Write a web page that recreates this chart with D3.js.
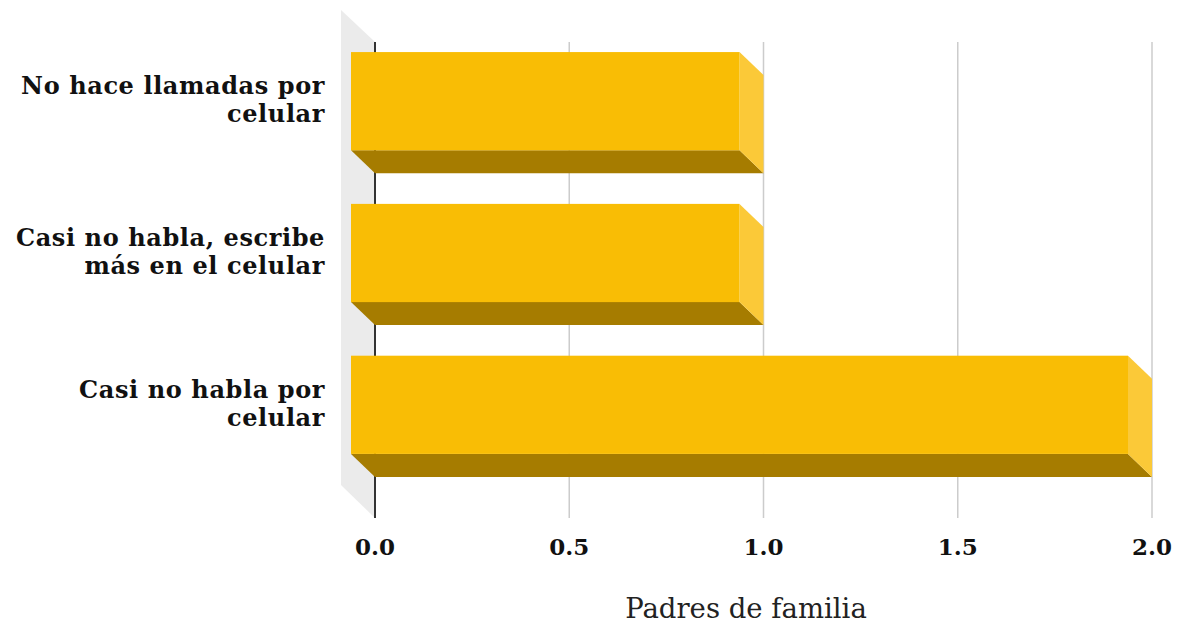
<!DOCTYPE html>
<html><head><meta charset="utf-8">
<script src="https://cdn.jsdelivr.net/npm/d3@7"></script>
<style>body{margin:0;background:#fff}</style>
</head><body>
<svg id="c" width="1188" height="625"></svg>
<script>
const categories = ["No hace llamadas por celular", "Casi no habla, escribe más en el celular", "Casi no habla por celular"];
const labelLines = [["No hace llamadas por", "celular"], ["Casi no habla, escribe", "más en el celular"], ["Casi no habla por", "celular"]];
const values = [1, 1, 2];
const tickValues = [0, 0.5, 1, 1.5, 2];
const tickLabels = ["0.0", "0.5", "1.0", "1.5", "2.0"];
const axisTitle = "Padres de familia";

const svg = d3.select("#c");
const FONT = "'DejaVu Serif', Georgia, serif";
const x = d3.scaleLinear().domain([0, 2]).range([375, 1152]);
const y = d3.scaleBand().domain(categories).range([37.5, 514.5]).paddingInner(0.353).paddingOuter(0.2475);
const plotTop = 42, plotBottom = 518;
const dx = 24, dy = 23; // depth offset (front face is up-left of back plane)

// left wall
svg.append("polygon")
  .attr("points", [[x(0) - 34, plotTop - 32], [x(0), plotTop], [x(0), plotBottom], [x(0) - 34, plotBottom - 33]].map(p => p.join(",")).join(" "))
  .attr("fill", "#ebebeb");

// gridlines
svg.selectAll("line.grid").data(tickValues.filter(d => d > 0)).join("line")
  .attr("x1", d => x(d)).attr("x2", d => x(d))
  .attr("y1", plotTop).attr("y2", plotBottom)
  .attr("stroke", "#cccccc").attr("stroke-width", 1.5);
// axis line
svg.append("line").attr("x1", x(0)).attr("x2", x(0)).attr("y1", plotTop).attr("y2", plotBottom)
  .attr("stroke", "#333").attr("stroke-width", 2);

const bars = svg.selectAll("g.bar").data(categories.map((c, i) => ({c, v: values[i]}))).join("g");
// bottom face
bars.append("polygon").attr("fill", "#a67c00").attr("points", d => {
  const yb = y(d.c) + y.bandwidth();
  return [[x(0) - dx, yb - dy], [x(d.v) - dx, yb - dy], [x(d.v), yb], [x(0), yb]].map(p => p.join(",")).join(" ");
});
// side face
bars.append("polygon").attr("fill", "#fbc938").attr("points", d => {
  const yt = y(d.c), yb = y(d.c) + y.bandwidth();
  return [[x(d.v) - dx, yt - dy], [x(d.v), yt], [x(d.v), yb], [x(d.v) - dx, yb - dy]].map(p => p.join(",")).join(" ");
});
// front face
bars.append("rect").attr("fill", "#f9bd05")
  .attr("x", x(0) - dx).attr("y", d => y(d.c) - dy)
  .attr("width", d => x(d.v) - x(0)).attr("height", y.bandwidth());

// category labels
categories.forEach((c, i) => {
  const cy = y(c) - dy + y.bandwidth() / 2;
  const t = svg.append("text").attr("text-anchor", "end").attr("font-family", FONT)
    .attr("font-weight", "bold").attr("font-size", 24).attr("letter-spacing", 0.6).attr("fill", "#111");
  labelLines[i].forEach((l, j) => {
    t.append("tspan").attr("x", 325).attr("y", cy - 7 + j * 28).text(l);
  });
});

// tick labels
svg.selectAll("text.tick").data(tickValues).join("text")
  .attr("x", d => x(d)).attr("y", 555).attr("text-anchor", "middle")
  .attr("font-family", FONT).attr("font-weight", "bold").attr("font-size", 23).attr("fill", "#111")
  .text((d, i) => tickLabels[i]);

svg.append("text").attr("x", 746).attr("y", 618).attr("text-anchor", "middle")
  .attr("font-family", FONT).attr("font-size", 27.5).attr("fill", "#222").text(axisTitle);
</script>
</body></html>
